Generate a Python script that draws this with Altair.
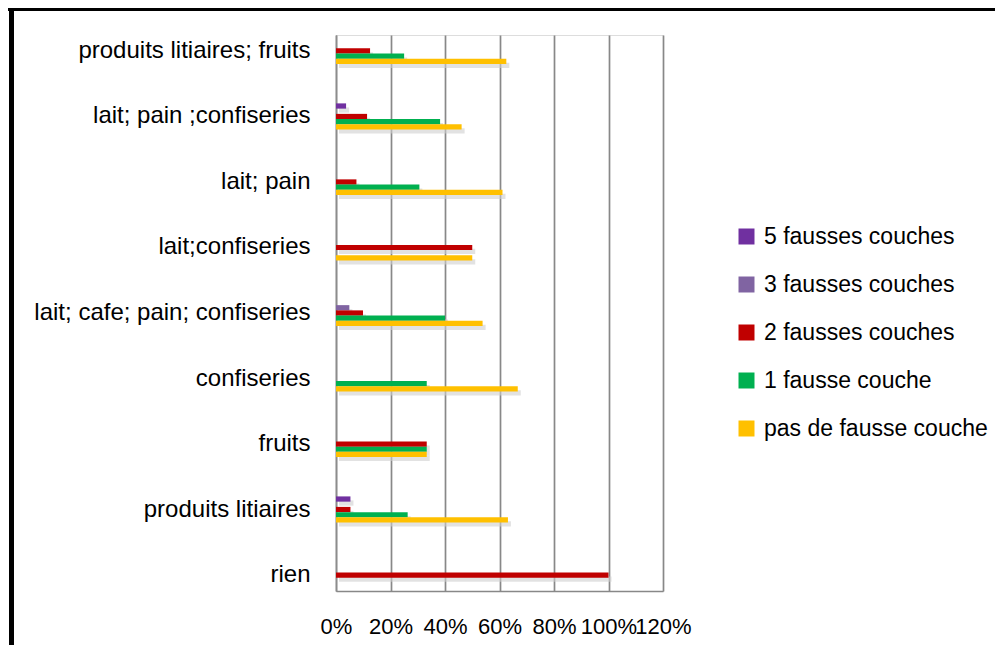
import altair as alt
import pandas as pd

categories = [
    "produits litiaires; fruits",
    "lait; pain ;confiseries",
    "lait; pain",
    "lait;confiseries",
    "lait; cafe; pain; confiseries",
    "confiseries",
    "fruits",
    "produits litiaires",
    "rien",
]
series = [
    "5 fausses couches",
    "3 fausses couches",
    "2 fausses couches",
    "1 fausse couche",
    "pas de fausse couche",
]
colors = ["#7030A0", "#8064A2", "#C00000", "#00B050", "#FFC000"]

five = [None, 0.037, None, None, None, None, None, 0.053, None]
three = [None, None, None, None, 0.049, None, None, None, None]
two = [0.125, 0.114, 0.075, 0.50, 0.099, None, 0.333, 0.053, 1.00]
one = [0.25, 0.382, 0.306, None, 0.40, 0.333, 0.333, 0.263, None]
none_ = [0.625, 0.461, 0.611, 0.50, 0.538, 0.667, 0.333, 0.631, None]

ticks = [0, 0.2, 0.4, 0.6, 0.8, 1.0, 1.2]

rows = []
for s, vals in zip(series, [five, three, two, one, none_]):
    for c, v in zip(categories, vals):
        if v is not None:
            rows.append({"cat": c, "serie": s, "val": v})
df = pd.DataFrame(rows)

FONT = "Liberation Sans"
W, H = 327, 556

y_enc = alt.Y("cat:N", sort=categories, title=None,
              scale=alt.Scale(paddingInner=0.6, paddingOuter=0.044),
              axis=alt.Axis(labelFont=FONT, labelFontSize=24, labelColor="#000000",
                            labelLimit=400, ticks=False, labelPadding=26,
                            domainColor="#8c8c8c", domainWidth=1.5))
x_enc = alt.X("val:Q", title=None,
              scale=alt.Scale(domain=[0, 1.2], nice=False, zero=True),
              axis=alt.Axis(values=ticks, format=".0%", grid=True, gridColor="#888888",
                            gridWidth=1.7, ticks=False, labelFont=FONT, labelFontSize=22,
                            labelColor="#000000", labelPadding=25, labelOverlap=False,
                            labelFlush=False, domainColor="#888888", domainWidth=1.7))

shadow = alt.Chart(df).mark_bar(color="#cfcfcf", opacity=0.6, xOffset=3).encode(
    y=y_enc,
    x=x_enc,
    yOffset=alt.YOffset("serie:N", sort=series,
                        scale=alt.Scale(domain=series, range=[4, 30.2])),
)

bars = alt.Chart(df).mark_bar().encode(
    y=y_enc,
    x=x_enc,
    yOffset=alt.YOffset("serie:N", sort=series, scale=alt.Scale(domain=series)),
    color=alt.Color("serie:N", sort=series,
                    scale=alt.Scale(domain=series, range=colors),
                    legend=alt.Legend(title=None, orient="none", legendX=399, legendY=190,
                                      symbolType="square", symbolSize=256,
                                      symbolStrokeWidth=0, labelFont=FONT,
                                      labelFontSize=23, labelColor="#000000",
                                      rowPadding=24, labelOffset=6, padding=0,
                                      labelLimit=400)),
)

left_border = alt.Chart(df).mark_rule(color="#000000", strokeWidth=3.5).encode(
    x=alt.value(-324.5), y=alt.value(-27), y2=alt.value(630))
top_border = alt.Chart(df).mark_rule(color="#000000", strokeWidth=3).encode(
    x=alt.value(-328), x2=alt.value(660), y=alt.value(-25.5))

chart = alt.layer(shadow, bars, left_border, top_border).resolve_scale(
    yOffset="independent"
).properties(
    width=W, height=H,
    autosize=alt.AutoSizeParams(type="none"),
    padding={"left": 328, "top": 27, "right": 332, "bottom": 54},
).configure_view(strokeWidth=0).configure(background="#ffffff")

chart.save("out.html", embed_options={"renderer": "svg", "actions": False})
